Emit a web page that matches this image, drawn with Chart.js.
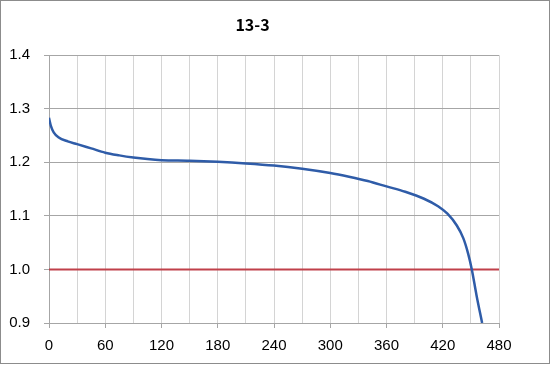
<!DOCTYPE html>
<html>
<head>
<meta charset="utf-8">
<script src="https://cdn.jsdelivr.net/npm/chart.js@4/dist/chart.umd.min.js"></script>
<style>
  body { margin: 0; background: #fff; }
  #wrap { position: relative; width: 551px; height: 367px; }
  #frame { position: absolute; left: 0; top: 0; width: 548px; height: 362px; border: 1px solid #8c8c8c; pointer-events: none; }
</style>
</head>
<body>
<div id="wrap">
  <canvas id="dischargeChart" width="551" height="367"></canvas>
  <div id="frame"></div>
</div>
<script>
// discharge curve (minutes, volts)
const minutes = [0, 2, 5, 10, 20, 30, 45, 60, 75, 90, 105, 120, 150, 180, 210, 240, 270, 300, 320, 340, 360, 380, 400, 415, 425, 435, 442, 447, 451, 456, 462];
const volts = [1.283, 1.268, 1.256, 1.247, 1.239, 1.234, 1.226, 1.218, 1.213, 1.209, 1.206, 1.204, 1.203, 1.201, 1.198, 1.194, 1.188, 1.180, 1.173, 1.165, 1.155, 1.145, 1.132, 1.118, 1.104, 1.082, 1.058, 1.030, 1.000, 0.952, 0.900];
const cutoffX = [0, 480];
const cutoffY = [1.0, 1.0];
const chartTitle = "13-3";

const ctx = document.getElementById("dischargeChart");
const fontName = "'Liberation Sans', 'DejaVu Sans', sans-serif";

window.myLine = new Chart(ctx, {
  type: "line",
  data: {
    datasets: [
      {
        label: "voltage",
        data: minutes.map((m, i) => ({ x: m, y: volts[i] })),
        borderColor: "#2f5ca8",
        borderWidth: 2.5,
        pointRadius: 0,
        cubicInterpolationMode: "monotone",
        order: 1
      },
      {
        label: "cutoff",
        data: cutoffX.map((m, i) => ({ x: m, y: cutoffY[i] })),
        borderColor: "#c0404a",
        borderWidth: 2,
        pointRadius: 0,
        order: 2
      }
    ]
  },
  options: {
    responsive: false,
    animation: false,
    layout: { padding: { left: 6, right: 52, top: 0, bottom: 0 } },
    plugins: {
      legend: { display: false },
      tooltip: { enabled: false },
      title: {
        display: true,
        text: chartTitle,
        color: "#000",
        font: { family: "'Noto Sans CJK JP', sans-serif", size: 16, weight: "bold" },
        padding: { top: 15, bottom: 21 }
      }
    },
    scales: {
      x: {
        type: "linear",
        min: 0,
        max: 480,
        afterFit: s => { s.height = 44; },
        ticks: {
          stepSize: 30,
          autoSkip: false,
          maxRotation: 0,
          padding: 9,
          color: "#000",
          font: { family: fontName, size: 15 },
          callback: v => (v % 60 === 0 ? v : "")
        },
        grid: {
          color: "#d4d4d4",
          tickLength: 5,
          tickColor: c => (c.tick && c.tick.value % 60 === 0 ? "#a6a6a6" : "rgba(0,0,0,0)")
        },
        border: { color: "#a6a6a6" }
      },
      y: {
        min: 0.9,
        max: 1.4,
        afterFit: s => { s.width = 43; },
        ticks: {
          stepSize: 0.1,
          padding: 14,
          color: "#000",
          font: { family: fontName, size: 15 },
          callback: v => v.toFixed(1)
        },
        grid: { color: "#a6a6a6", tickLength: 5, tickColor: "#a6a6a6" },
        border: { color: "#a6a6a6" }
      }
    }
  }
});
</script>
</body>
</html>
